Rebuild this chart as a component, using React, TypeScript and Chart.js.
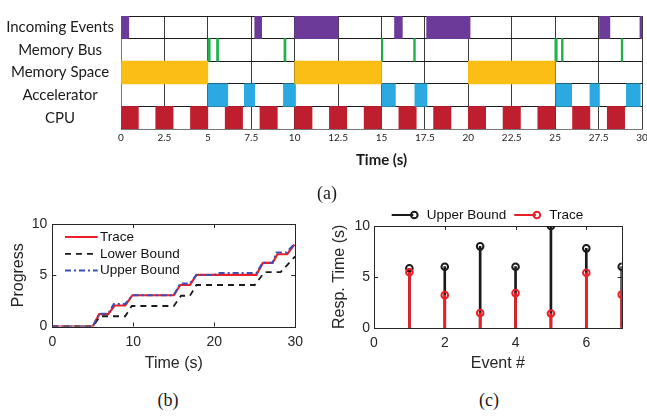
import React, { useEffect, useRef } from "react";
import { Chart, registerables } from "chart.js";

Chart.register(...registerables);

// ---------- (a) timeline ----------
const rowLabels = ["Incoming Events", "Memory Bus", "Memory Space", "Accelerator", "CPU"];
const rowColors = ["#6c3a98", "#20b04c", "#fbbe14", "#2aaae1", "#be1e2d"];
const incomingEvents = [[0, 0.45], [7.7, 8.1], [10, 12.5], [15.75, 16.2], [17.6, 20.1], [27.55, 28.15], [29.88, 30]];
const memoryBus = [[5.0, 5.14], [5.5, 5.62], [9.38, 9.5], [15.0, 15.08], [16.85, 16.95], [24.98, 25.12], [25.36, 25.46], [28.8, 28.9]];
const memorySpace = [[0, 5], [10, 15], [20, 25]];
const accelerator = [[5, 6.15], [7.1, 7.7], [9.35, 10.05], [15.02, 15.8], [16.92, 17.62], [25.04, 25.95], [27, 27.55], [29.1, 29.9]];
const cpu = [[0, 1], [2, 3], [4, 5], [6, 7], [8, 9], [10, 11], [12, 13], [14, 15], [16, 17], [18, 19], [20, 21], [22, 23], [24, 25], [26, 27], [28, 29]];
const timelineMax = 30;
const timelineStep = 2.5;

// ---------- (b) progress ----------
const traceTime = [0, 5, 5.8, 6.9, 7.7, 9.0, 9.9, 15, 15.8, 17, 17.8, 25.2, 26, 27.2, 27.8, 29, 29.9];
const traceProgress = [0, 0, 1.2, 1.2, 2.05, 2.05, 3.05, 3.05, 4.05, 4.05, 5.03, 5.03, 6.2, 6.2, 7.05, 7.05, 8.0];
const lowerTime = [0, 5, 5.9, 9, 9.8, 15, 15.9, 17, 17.8, 25, 26.2, 28.2, 30];
const lowerProgress = [0, 0, 1, 1, 2, 2, 3, 3, 4.05, 4.05, 5.3, 5.3, 6.85];
const upperTime = [0, 5, 5.8, 6.9, 7.6, 9.0, 9.9, 15, 15.8, 17, 17.8, 20.1, 20.3, 25.2, 26, 27.2, 27.7, 28.9, 29.9];
const upperProgress = [0, 0, 1.25, 1.25, 2.2, 2.2, 3.05, 3.05, 4.2, 4.2, 5.03, 5.03, 5.22, 5.22, 6.22, 6.22, 7.22, 7.22, 8.05];

// ---------- (c) response time ----------
const eventIds = [1, 2, 3, 4, 5, 6, 7];
const upperResp = [5.85, 6.0, 8.0, 6.0, 10.0, 7.8, 6.0];
const traceResp = [5.45, 3.2, 1.45, 3.4, 1.4, 5.4, 3.25];

const TXT = "#262626";
const SANS = "'Liberation Sans', Arial, sans-serif";
const RED = "#ec1f27";
const BLUE = "#3b50b6";
const BLACK = "#1a1a1a";

const zip = (xs: number[], ys: number[]) => xs.map((x, i) => ({ x, y: ys[i] }));

const framePlugin = {
  id: "frame",
  beforeDatasetsDraw(chart: any, _a: any, opts: any) {
    const { ctx, chartArea } = chart;
    const { left, right, top, bottom } = chartArea;
    const xs = chart.scales.x;
    const ys = chart.scales.y;
    const L = opts.tick ?? 4;
    ctx.save();
    ctx.strokeStyle = opts.color || TXT;
    ctx.lineWidth = 1;
    ctx.strokeRect(Math.round(left) + 0.5, Math.round(top) + 0.5, Math.round(right - left), Math.round(bottom - top));
    ctx.beginPath();
    xs.ticks.forEach((t: any) => {
      const px = Math.round(xs.getPixelForValue(t.value)) + 0.5;
      ctx.moveTo(px, bottom);
      ctx.lineTo(px, bottom - L);
      ctx.moveTo(px, top);
      ctx.lineTo(px, top + L);
    });
    ys.ticks.forEach((t: any) => {
      const py = Math.round(ys.getPixelForValue(t.value)) + 0.5;
      ctx.moveTo(left, py);
      ctx.lineTo(left + L, py);
      ctx.moveTo(right, py);
      ctx.lineTo(right - L, py);
    });
    ctx.stroke();
    ctx.restore();
  },
};

const lineLegendPlugin = {
  id: "lineLegend",
  afterDraw(chart: any, _a: any, opts: any) {
    const { ctx, chartArea } = chart;
    const baseX = opts.relative ? chartArea.left : 0;
    const baseY = opts.relative ? chartArea.top : 0;
    let cx = baseX + opts.x;
    let cy = baseY + opts.y;
    ctx.save();
    ctx.font = opts.font;
    ctx.textBaseline = "middle";
    ctx.textAlign = "left";
    opts.items.forEach((it: any) => {
      const x1 = cx + opts.lineLen;
      ctx.strokeStyle = it.color;
      ctx.lineWidth = it.width;
      ctx.setLineDash(it.dash || []);
      ctx.beginPath();
      ctx.moveTo(cx, cy);
      ctx.lineTo(x1, cy);
      ctx.stroke();
      ctx.setLineDash([]);
      if (it.marker) {
        ctx.beginPath();
        ctx.arc(x1 + 1, cy, 3.3, 0, Math.PI * 2);
        ctx.stroke();
      }
      const tx = x1 + opts.textGap;
      ctx.fillStyle = opts.textColor || TXT;
      ctx.fillText(it.label, tx, cy);
      if (opts.direction === "h") {
        cx = tx + ctx.measureText(it.label).width + opts.itemGap;
      } else {
        cy += opts.rowH;
      }
    });
    ctx.restore();
  },
};

function timelineConfig(): any {
  const rows = [incomingEvents, memoryBus, memorySpace, accelerator, cpu];
  const maxSegs = Math.max(...rows.map((r) => r.length));
  const datasets = Array.from({ length: maxSegs }, (_, k) => ({
    data: rows.map((r) => (r[k] ? r[k] : null)),
    backgroundColor: rowColors,
    borderWidth: 0,
    grouped: false,
    barPercentage: 1,
    categoryPercentage: 1,
  }));
  return {
    type: "bar",
    data: { labels: rowLabels, datasets },
    options: {
      indexAxis: "y",
      animation: false,
      responsive: false,
      events: [],
      layout: { padding: { top: 6.5, right: 5, left: 0, bottom: 0 } },
      plugins: { legend: { display: false }, tooltip: { enabled: false } },
      scales: {
        x: {
          type: "linear",
          min: 0,
          max: timelineMax,
          ticks: {
            stepSize: timelineStep,
            autoSkip: false,
            maxRotation: 0,
            padding: 3,
            color: "#222",
            font: { family: "Lato", size: 10 },
            callback: (v: any) => String(v),
          },
          grid: { color: "#3c3c3c", lineWidth: 1, drawTicks: false },
          border: { display: true, color: "#777" },
          title: {
            display: true,
            text: "Time (s)",
            color: "#1a1a1a",
            font: { family: "Lato", size: 15, weight: "bold" },
            padding: { top: 0, bottom: 3 },
          },
          afterFit: (s: any) => {
            s.height = 43;
            s.paddingRight = 0;
            s.paddingLeft = 0;
          },
        },
        y: {
          type: "category",
          ticks: {
            crossAlign: "center",
            padding: 7,
            color: "#1a1a1a",
            font: { family: "Lato", size: 15 },
          },
          grid: { color: "#1a1a1a", lineWidth: 1, drawTicks: false, offset: true },
          border: { display: true, color: "#777" },
          afterFit: (s: any) => {
            s.width = 121;
          },
        },
      },
    },
  };
}

function progressConfig(): any {
  return {
    type: "scatter",
    data: {
      datasets: [
        { label: "Trace", data: zip(traceTime, traceProgress), showLine: true, borderColor: RED, borderWidth: 2.2, pointRadius: 0, order: 3 },
        { label: "Lower Bound", data: zip(lowerTime, lowerProgress), showLine: true, borderColor: BLACK, borderWidth: 1.8, borderDash: [6, 5], pointRadius: 0, order: 2 },
        { label: "Upper Bound", data: zip(upperTime, upperProgress), showLine: true, borderColor: BLUE, borderWidth: 2, borderDash: [6, 3, 2, 3], pointRadius: 0, order: 1 },
      ],
    },
    plugins: [framePlugin, lineLegendPlugin],
    options: {
      animation: false,
      responsive: false,
      events: [],
      layout: { padding: { top: 14, right: 12, left: 0, bottom: 0 } },
      plugins: {
        legend: { display: false },
        tooltip: { enabled: false },
        frame: { color: TXT, tick: 4 },
        lineLegend: {
          relative: true,
          x: 12.7,
          y: 13,
          lineLen: 32.7,
          textGap: 2.4,
          rowH: 16.8,
          direction: "v",
          font: `13.5px ${SANS}`,
          textColor: "#111",
          items: [
            { label: "Trace", color: RED, width: 2.2 },
            { label: "Lower Bound", color: BLACK, width: 1.8, dash: [6, 5] },
            { label: "Upper Bound", color: BLUE, width: 2, dash: [6, 3, 2, 3] },
          ],
        },
      },
      scales: {
        x: {
          type: "linear",
          min: 0,
          max: 30,
          ticks: { stepSize: 10, padding: 7, color: TXT, font: { family: SANS, size: 14 }, maxRotation: 0 },
          grid: { display: false, drawTicks: false },
          border: { display: false },
          title: { display: true, text: "Time (s)", color: TXT, font: { family: SANS, size: 16 }, padding: { top: 0, bottom: 7 } },
          afterFit: (s: any) => {
            s.height = 53.5;
          },
        },
        y: {
          type: "linear",
          min: 0,
          max: 10,
          ticks: { stepSize: 5, padding: 5, color: TXT, font: { family: SANS, size: 14 } },
          grid: { display: false, drawTicks: false },
          border: { display: false },
          title: { display: true, text: "Progress", color: TXT, font: { family: SANS, size: 16 }, padding: { top: 8.7, bottom: 0 } },
          afterFit: (s: any) => {
            s.width = 52.3;
          },
        },
      },
    },
  };
}

function responseConfig(): any {
  const upperPts = zip(eventIds, upperResp);
  const tracePts = zip(eventIds, traceResp);
  return {
    type: "bar",
    data: {
      datasets: [
        { type: "bar", data: upperPts, backgroundColor: BLACK, barThickness: 2, grouped: false, order: 4 },
        { type: "scatter", data: upperPts, borderColor: BLACK, backgroundColor: "rgba(0,0,0,0)", pointRadius: 3.3, borderWidth: 2, order: 3 },
        { type: "bar", data: tracePts, backgroundColor: RED, barThickness: 2, grouped: false, order: 2 },
        { type: "scatter", data: tracePts, borderColor: RED, backgroundColor: "rgba(0,0,0,0)", pointRadius: 3.3, borderWidth: 2, order: 1 },
      ],
    },
    plugins: [framePlugin, lineLegendPlugin],
    options: {
      animation: false,
      responsive: false,
      events: [],
      layout: { padding: { top: 26, right: 25.3, left: 0, bottom: 0 } },
      plugins: {
        legend: { display: false },
        tooltip: { enabled: false },
        frame: { color: TXT, tick: 4 },
        lineLegend: {
          relative: false,
          x: 71.7,
          y: 15,
          lineLen: 21.6,
          textGap: 13.4,
          itemGap: 8,
          direction: "h",
          font: `13.5px ${SANS}`,
          textColor: "#111",
          items: [
            { label: "Upper Bound", color: BLACK, width: 2, marker: true },
            { label: "Trace", color: RED, width: 2, marker: true },
          ],
        },
      },
      scales: {
        x: {
          type: "linear",
          min: 0,
          max: 7,
          offset: false,
          ticks: { stepSize: 2, includeBounds: false, padding: 7.5, color: TXT, font: { family: SANS, size: 14 }, maxRotation: 0 },
          grid: { display: false, drawTicks: false, offset: false },
          border: { display: false },
          title: { display: true, text: "Event #", color: TXT, font: { family: SANS, size: 16 }, padding: { top: 0, bottom: 6.4 } },
          afterFit: (s: any) => {
            s.height = 52.3;
          },
        },
        y: {
          type: "linear",
          min: 0,
          max: 10,
          ticks: { stepSize: 5, padding: 4, color: TXT, font: { family: SANS, size: 14 } },
          grid: { display: false, drawTicks: false },
          border: { display: false },
          title: { display: true, text: "Resp. Time (s)", color: TXT, font: { family: SANS, size: 16 }, padding: { top: 10.4, bottom: 0 } },
          afterFit: (s: any) => {
            s.width = 54;
          },
        },
      },
    },
  };
}

function ChartCanvas(props: { make: () => any; left: number; top: number; width: number; height: number }) {
  const ref = useRef<HTMLCanvasElement>(null);
  useEffect(() => {
    const chart = new Chart(ref.current as HTMLCanvasElement, props.make());
    return () => chart.destroy();
  }, []);
  return (
    <canvas
      ref={ref}
      width={props.width}
      height={props.height}
      style={{ position: "absolute", left: props.left, top: props.top, width: props.width, height: props.height }}
    />
  );
}

const capStyle = (left: number, top: number): React.CSSProperties => ({
  position: "absolute",
  left,
  top,
  width: 60,
  textAlign: "center",
  fontFamily: "'Liberation Serif', 'Times New Roman', serif",
  fontSize: 18,
  lineHeight: "20px",
  color: "#1a1a1a",
});

export default function App() {
  return (
    <div style={{ position: "fixed", left: 0, top: 0, width: 647, height: 417, background: "#fff", overflow: "hidden" }}>
      <ChartCanvas make={timelineConfig} left={0} top={0} width={647} height={172} />
      <ChartCanvas make={progressConfig} left={0} top={210} width={310} height={170} />
      <ChartCanvas make={responseConfig} left={320} top={200} width={327} height={180} />
      <div style={capStyle(297, 183)}>(a)</div>
      <div style={capStyle(138, 390)}>(b)</div>
      <div style={capStyle(459, 390)}>(c)</div>
    </div>
  );
}
